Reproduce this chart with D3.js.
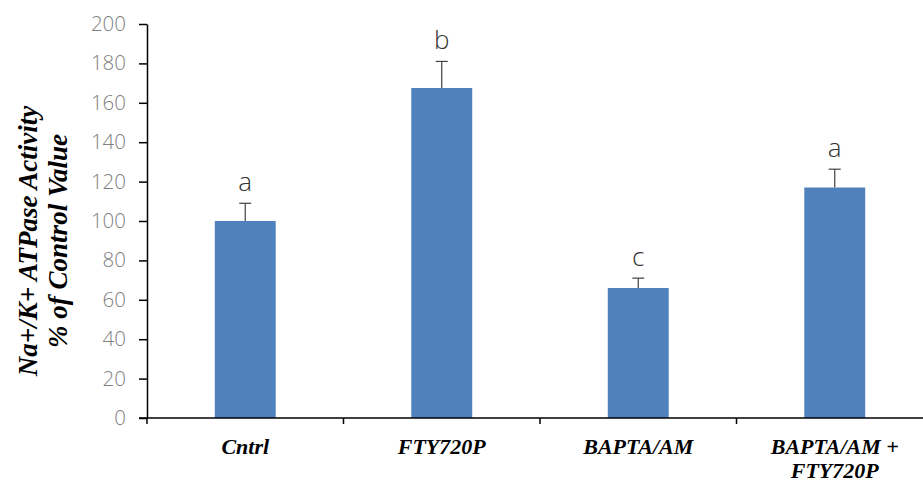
<!DOCTYPE html>
<html>
<head>
<meta charset="utf-8">
<script src="https://cdn.jsdelivr.net/npm/d3@7"></script>
<style>
  html, body { margin: 0; padding: 0; background: #fff; }
  svg { display: block; }
  .serif { font-family: "Liberation Serif", "DejaVu Serif", "Times New Roman", Times, serif; font-weight: bold; font-style: italic; }
  .light { font-family: "Open Sans", Lato, sans-serif; font-weight: 300; }
</style>
</head>
<body>
<svg id="chart" width="923" height="484"></svg>
<script>
// Na+/K+ ATPase activity, % of control
const categories = ["Cntrl", "FTY720P", "BAPTA/AM", "BAPTA/AM + FTY720P"];
const categoryLines = [["Cntrl"], ["FTY720P"], ["BAPTA/AM"], ["BAPTA/AM +", "FTY720P"]];
const values = [100, 167.5, 66, 117];
const errors = [9, 13.5, 5, 9.3];
const groupLetters = ["a", "b", "c", "a"];
const yTicks = [0, 20, 40, 60, 80, 100, 120, 140, 160, 180, 200];

const svg = d3.select("#chart");
const margin = { left: 147, top: 24, bottom: 418 };
const plotRight = 933;

const x = d3.scaleBand()
  .domain(categories)
  .range([margin.left, plotRight])
  .paddingInner(0.69)
  .paddingOuter(0.345);

const y = d3.scaleLinear().domain([0, 200]).range([margin.bottom, margin.top]);

// Bars
svg.append("g").selectAll("rect")
  .data(categories)
  .join("rect")
  .attr("x", d => x(d))
  .attr("width", x.bandwidth())
  .attr("y", (d, i) => y(values[i]))
  .attr("height", (d, i) => y(0) - y(values[i]))
  .attr("fill", "#4F81BD");

// Error bars (upper only)
const eb = svg.append("g").attr("stroke", "#404040").attr("stroke-width", 1.2);
categories.forEach((c, i) => {
  const cx = x(c) + x.bandwidth() / 2;
  eb.append("line").attr("x1", cx).attr("x2", cx)
    .attr("y1", y(values[i])).attr("y2", y(values[i] + errors[i]));
  eb.append("line").attr("x1", cx - 6).attr("x2", cx + 6)
    .attr("y1", y(values[i] + errors[i])).attr("y2", y(values[i] + errors[i]));
});

// Significance letters
svg.append("g").selectAll("text")
  .data(categories)
  .join("text")
  .attr("class", "light")
  .attr("x", d => x(d) + x.bandwidth() / 2)
  .attr("y", (d, i) => y(values[i] + errors[i]) - 12)
  .attr("text-anchor", "middle")
  .attr("font-size", 26)
  .attr("fill", "#333")
  .text((d, i) => groupLetters[i]);

// Y axis
const yAxis = svg.append("g")
  .attr("transform", `translate(${margin.left},0)`)
  .attr("font-family", null)
  .call(d3.axisLeft(y).tickValues(yTicks).tickSize(8).tickSizeOuter(0).tickPadding(13));
yAxis.select(".domain").attr("stroke", "#000").attr("stroke-width", 1.5);
yAxis.selectAll(".tick line").attr("stroke", "#000").attr("stroke-width", 1.5);
yAxis.selectAll(".tick text")
  .attr("class", "light")
  .attr("font-size", 20.5)
  .attr("fill", "#7f7f7f");

// X axis with ticks at category boundaries
const xg = svg.append("g");
xg.append("line")
  .attr("x1", margin.left - 8).attr("x2", plotRight)
  .attr("y1", y(0)).attr("y2", y(0))
  .attr("stroke", "#000").attr("stroke-width", 1.5);
const step = x.step();
const boundaries = categories.map((c, i) => margin.left + i * step).concat([plotRight]);
xg.selectAll("line.tick")
  .data(boundaries)
  .join("line")
  .attr("class", "tick")
  .attr("x1", d => d).attr("x2", d => d)
  .attr("y1", y(0)).attr("y2", y(0) + 6)
  .attr("stroke", "#000").attr("stroke-width", 1.5);

// Category labels
const labels = svg.append("g")
  .attr("class", "serif")
  .attr("font-size", 22)
  .attr("fill", "#000")
  .attr("text-anchor", "middle");
categories.forEach((c, i) => {
  const cx = x(c) + x.bandwidth() / 2;
  const t = labels.append("text").attr("x", cx).attr("y", 454);
  categoryLines[i].forEach((ln, j) => {
    t.append("tspan").attr("x", cx).attr("dy", j === 0 ? 0 : 24).text(ln);
  });
});

// Y axis title
const title = svg.append("text")
  .attr("class", "serif")
  .attr("transform", `translate(0,${(margin.top + margin.bottom) / 2 + 20}) rotate(-90)`)
  .attr("font-size", 27)
  .attr("fill", "#000")
  .attr("text-anchor", "middle");
title.append("tspan").attr("x", 0).attr("y", 37).text("Na+/K+ ATPase Activity");
title.append("tspan").attr("x", 0).attr("y", 67).text("% of Control Value");
</script>
</body>
</html>
